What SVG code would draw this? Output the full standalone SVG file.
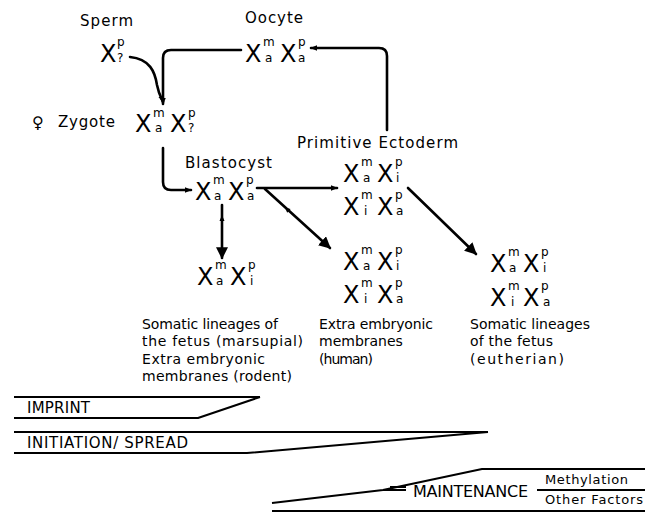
<svg xmlns="http://www.w3.org/2000/svg" width="645" height="513" viewBox="0 0 645 513">
<style>
text{font-family:"DejaVu Sans","Liberation Sans",sans-serif;fill:#000}
.hd{font-size:15px}
.lb{font-size:14px}
.bd{font-size:15px}
.x{font-size:24px}
.s{font-size:12px}
.c{fill:none;stroke:#000;stroke-width:2.6;stroke-linecap:round;stroke-linejoin:round}
.b{fill:none;stroke:#000;stroke-width:2;stroke-linejoin:round}
</style>
<defs>
<marker id="sm" viewBox="0 0 8 8" refX="7" refY="4" markerWidth="7" markerHeight="7" markerUnits="userSpaceOnUse" orient="auto"><path d="M0,0.8 L8,4 L0,7.2 z"/></marker>
<marker id="lg" viewBox="0 0 10 10" refX="9" refY="5" markerWidth="12" markerHeight="12" markerUnits="userSpaceOnUse" orient="auto"><path d="M0,0 L10,5 L0,10 z"/></marker>
</defs>
<rect width="645" height="513" fill="#fff"/>

<g id="sperm">
<text class="hd" x="80" y="26" textLength="53">Sperm</text>
<text class="x" x="100" y="62">X</text><text class="s" x="117" y="46">p</text><text class="s" x="117" y="62">?</text>
</g>
<g id="oocyte">
<text class="hd" x="245" y="23" textLength="58">Oocyte</text>
<text class="x" x="245" y="62">X</text><text class="s" x="263" y="46">m</text><text class="s" x="265" y="62">a</text>
<text class="x" x="280" y="62">X</text><text class="s" x="298" y="46">p</text><text class="s" x="298" y="62">a</text>
</g>
<g id="zygote">
<text x="32" y="128" style="font-size:16px">♀</text>
<text class="hd" x="58" y="127" textLength="57">Zygote</text>
<text class="x" x="135" y="132">X</text><text class="s" x="153" y="117">m</text><text class="s" x="155" y="132">a</text>
<text class="x" x="170" y="132">X</text><text class="s" x="188" y="117">p</text><text class="s" x="188" y="132">?</text>
</g>
<g id="blastocyst">
<text class="hd" x="185" y="168" textLength="87">Blastocyst</text>
<text class="x" x="195" y="200">X</text><text class="s" x="213" y="184">m</text><text class="s" x="214" y="200">a</text>
<text class="x" x="228" y="200">X</text><text class="s" x="246" y="184">p</text><text class="s" x="247" y="200">a</text>
</g>
<g id="primitive-ectoderm">
<text class="hd" x="297" y="148" textLength="161">Primitive Ectoderm</text>
<text class="x" x="343" y="182">X</text><text class="s" x="361" y="166">m</text><text class="s" x="363" y="182">a</text>
<text class="x" x="377" y="182">X</text><text class="s" x="395" y="166">p</text><text class="s" x="396" y="182">i</text>
<text class="x" x="343" y="215">X</text><text class="s" x="361" y="199">m</text><text class="s" x="364" y="215">i</text>
<text class="x" x="377" y="215">X</text><text class="s" x="395" y="199">p</text><text class="s" x="396" y="215">a</text>
</g>
<g id="marsupial">
<text class="x" x="197" y="285">X</text><text class="s" x="215" y="269">m</text><text class="s" x="216" y="285">a</text>
<text class="x" x="230" y="285">X</text><text class="s" x="248" y="269">p</text><text class="s" x="250" y="285">i</text>
<text class="lb" x="142" y="329" textLength="136">Somatic lineages of</text>
<text class="lb" x="142" y="346" textLength="161">the fetus (marsupial)</text>
<text class="lb" x="142" y="364" textLength="123">Extra embryonic</text>
<text class="lb" x="142" y="381" textLength="150">membranes (rodent)</text>
</g>
<g id="human">
<text class="x" x="343" y="270">X</text><text class="s" x="361" y="254">m</text><text class="s" x="363" y="270">a</text>
<text class="x" x="377" y="270">X</text><text class="s" x="395" y="254">p</text><text class="s" x="396" y="270">i</text>
<text class="x" x="343" y="303">X</text><text class="s" x="361" y="287">m</text><text class="s" x="364" y="303">i</text>
<text class="x" x="377" y="303">X</text><text class="s" x="395" y="287">p</text><text class="s" x="396" y="303">a</text>
<text class="lb" x="319" y="329" textLength="114">Extra embryonic</text>
<text class="lb" x="319" y="346">membranes</text>
<text class="lb" x="319" y="364" textLength="54">(human)</text>
</g>
<g id="eutherian">
<text class="x" x="490" y="272">X</text><text class="s" x="508" y="256">m</text><text class="s" x="509" y="272">a</text>
<text class="x" x="523" y="272">X</text><text class="s" x="541" y="256">p</text><text class="s" x="543" y="272">i</text>
<text class="x" x="490" y="306">X</text><text class="s" x="508" y="290">m</text><text class="s" x="511" y="306">i</text>
<text class="x" x="523" y="306">X</text><text class="s" x="541" y="290">p</text><text class="s" x="543" y="306">a</text>
<text class="lb" x="470" y="329" textLength="120">Somatic lineages</text>
<text class="lb" x="470" y="346" textLength="83">of the fetus</text>
<text class="lb" x="470" y="364" textLength="94">(eutherian)</text>
</g>

<g id="connectors">
<path class="c" d="M130,57 C150,59 155,72 157,85 C159,95 162,99 163,102" marker-end="url(#sm)"/>
<path class="c" d="M241,50 H171 Q163,50 163,58 V104" marker-end="url(#sm)"/>
<path class="c" d="M163,148 V182 Q163,190 171,190 H191" marker-end="url(#sm)"/>
<path class="c" d="M387,130 V56 Q387,48 379,48 H311" marker-end="url(#sm)"/>
<path class="c" d="M257,188 H337" marker-end="url(#sm)"/>
<path class="c" d="M265,189 L330,248" marker-end="url(#lg)"/>
<path d="M285,207.5 L287.2,212.8 L290.6,209 z"/>
<path class="c" d="M222,205 V258" marker-end="url(#lg)"/>
<path d="M222,215 L219.5,221 L224.5,221 z"/>
<path class="c" d="M408,188 L476,254" marker-end="url(#lg)"/>
</g>

<g id="imprint">
<path class="b" d="M14,397 H260 M14,418 H198 L260,397"/>
<text class="bd" x="27" y="413" textLength="63">IMPRINT</text>
</g>
<g id="initiation">
<path class="b" d="M14,432 H488 M14,453 H247 L488,432"/>
<text class="bd" x="27" y="448" textLength="161">INITIATION/ SPREAD</text>
</g>
<g id="maintenance">
<path class="b" d="M272,503 L383,490 L482,469 H645 M383,490 H406 M390,487 H406 M272,511 H645 M537,490 H645"/>
<text x="413" y="497" textLength="115" style="font-size:16px">MAINTENANCE</text>
<text x="545" y="484" textLength="83" style="font-size:13px">Methylation</text>
<text x="545" y="504" textLength="98" style="font-size:13px">Other Factors</text>
</g>
</svg>
